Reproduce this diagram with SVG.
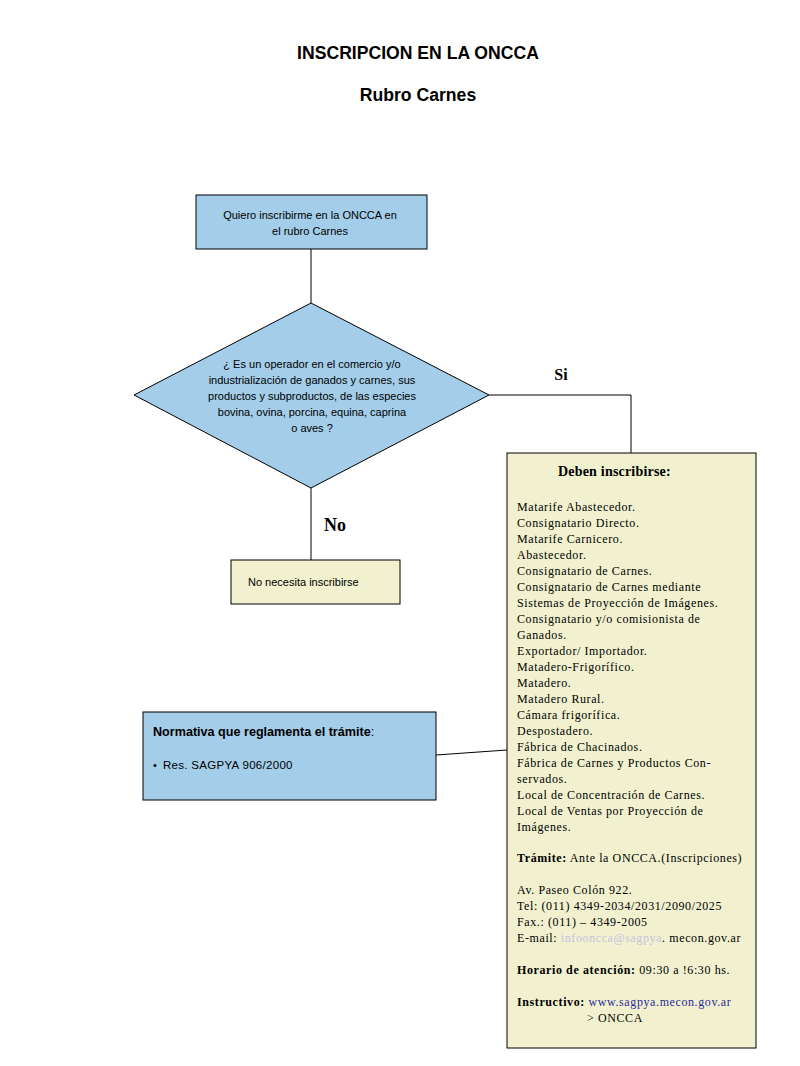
<svg xmlns="http://www.w3.org/2000/svg" width="800" height="1066" viewBox="0 0 800 1066">
<style>
.blue{fill:#a3cde9;stroke:#000;stroke-width:1}
.yel{fill:#f1f1cf;stroke:#000;stroke-width:1}
.conn{fill:none;stroke:#000;stroke-width:1}
.sans{font-family:"Liberation Sans",Arial,sans-serif;fill:#000}
.serif{font-family:"Liberation Serif","Times New Roman",serif;fill:#000}
.title{font-size:17.6px;font-weight:bold}
.small{font-size:11px}
.list{font-size:12px;letter-spacing:0.6px}
</style>
<rect width="800" height="1066" fill="#fff"/>
<g id="title">
<text class="sans title" x="418" y="59" text-anchor="middle">INSCRIPCION EN LA ONCCA</text>
<text class="sans title" x="418" y="101" text-anchor="middle">Rubro Carnes</text>
</g>
<g id="connectors">
<polyline class="conn" points="311,249 311,303"/>
<polyline class="conn" points="489,395 631,395 631,453"/>
<polyline class="conn" points="311,488 311,560"/>
<polyline class="conn" points="436,755 507,750"/>
<text class="serif" x="561" y="380" font-size="16" font-weight="bold" text-anchor="middle">Si</text>
<text class="serif" x="335" y="531" font-size="18" font-weight="bold" text-anchor="middle">No</text>
</g>
<g id="start">
<rect class="blue" x="196" y="195" width="231" height="54"/>
<text class="sans small" x="310" y="219" text-anchor="middle">Quiero inscribirme en la ONCCA en</text>
<text class="sans small" x="310" y="235" text-anchor="middle">el rubro Carnes</text>
</g>
<g id="decision">
<polygon class="blue" points="311,303 489,395 311,488 134,395"/>
<text class="sans small" x="312" y="368" text-anchor="middle">¿ Es un operador en el comercio y/o</text>
<text class="sans small" x="312" y="384" text-anchor="middle">industrialización de ganados y carnes, sus</text>
<text class="sans small" x="312" y="400" text-anchor="middle">productos y subproductos, de las especies</text>
<text class="sans small" x="312" y="416" text-anchor="middle">bovina, ovina, porcina, equina, caprina</text>
<text class="sans small" x="312" y="432" text-anchor="middle">o aves  ?</text>
</g>
<g id="no-box">
<rect class="yel" x="231" y="560" width="169" height="44"/>
<text class="sans small" x="248" y="586">No necesita inscribirse</text>
</g>
<g id="normativa">
<rect class="blue" x="143" y="712" width="293" height="88"/>
<text class="sans" x="153" y="736" font-size="12.6"><tspan font-weight="bold">Normativa que reglamenta el trámite</tspan>:</text>
<text class="sans small" x="153" y="769">•</text>
<text class="sans" x="163" y="769" font-size="11.5" letter-spacing="0.3">Res. SAGPYA 906/2000</text>
</g>
<g id="si-box">
<rect class="yel" x="507" y="453" width="249" height="595"/>
<text class="serif" x="558" y="476" font-size="14" font-weight="bold" letter-spacing="0.2">Deben inscribirse:</text>
<g class="serif list">
<text x="517" y="511">Matarife Abastecedor.</text>
<text x="517" y="527">Consignatario Directo.</text>
<text x="517" y="543">Matarife Carnicero.</text>
<text x="517" y="559">Abastecedor.</text>
<text x="517" y="575">Consignatario de Carnes.</text>
<text x="517" y="591">Consignatario de Carnes mediante</text>
<text x="517" y="607">Sistemas de Proyección de Imágenes.</text>
<text x="517" y="623">Consignatario y/o comisionista de</text>
<text x="517" y="639">Ganados.</text>
<text x="517" y="655">Exportador/ Importador.</text>
<text x="517" y="671">Matadero-Frigorífico.</text>
<text x="517" y="687">Matadero.</text>
<text x="517" y="703">Matadero Rural.</text>
<text x="517" y="719">Cámara frigorífica.</text>
<text x="517" y="735">Despostadero.</text>
<text x="517" y="751">Fábrica de Chacinados.</text>
<text x="517" y="767">Fábrica de Carnes y Productos Con-</text>
<text x="517" y="783">servados.</text>
<text x="517" y="799">Local de Concentración de Carnes.</text>
<text x="517" y="815">Local de Ventas por Proyección de</text>
<text x="517" y="831">Imágenes.</text>
<text x="517" y="862"><tspan font-weight="bold">Trámite:</tspan> Ante la ONCCA.(Inscripciones)</text>
<text x="517" y="894">Av. Paseo Colón 922.</text>
<text x="517" y="910">Tel: (011) 4349-2034/2031/2090/2025</text>
<text x="517" y="926">Fax.: (011) – 4349-2005</text>
<text x="517" y="942">E-mail: <tspan fill="#c4c4e0">infooncca@sagpya</tspan>. mecon.gov.ar</text>
<text x="517" y="974"><tspan font-weight="bold">Horario de atención:</tspan> 09:30  a !6:30 hs.</text>
<text x="517" y="1006"><tspan font-weight="bold">Instructivo:</tspan> <tspan fill="#2b2b9c">www.sagpya.mecon.gov.ar</tspan></text>
<text x="587" y="1022">&gt; ONCCA</text>
</g>
</g>
</svg>
